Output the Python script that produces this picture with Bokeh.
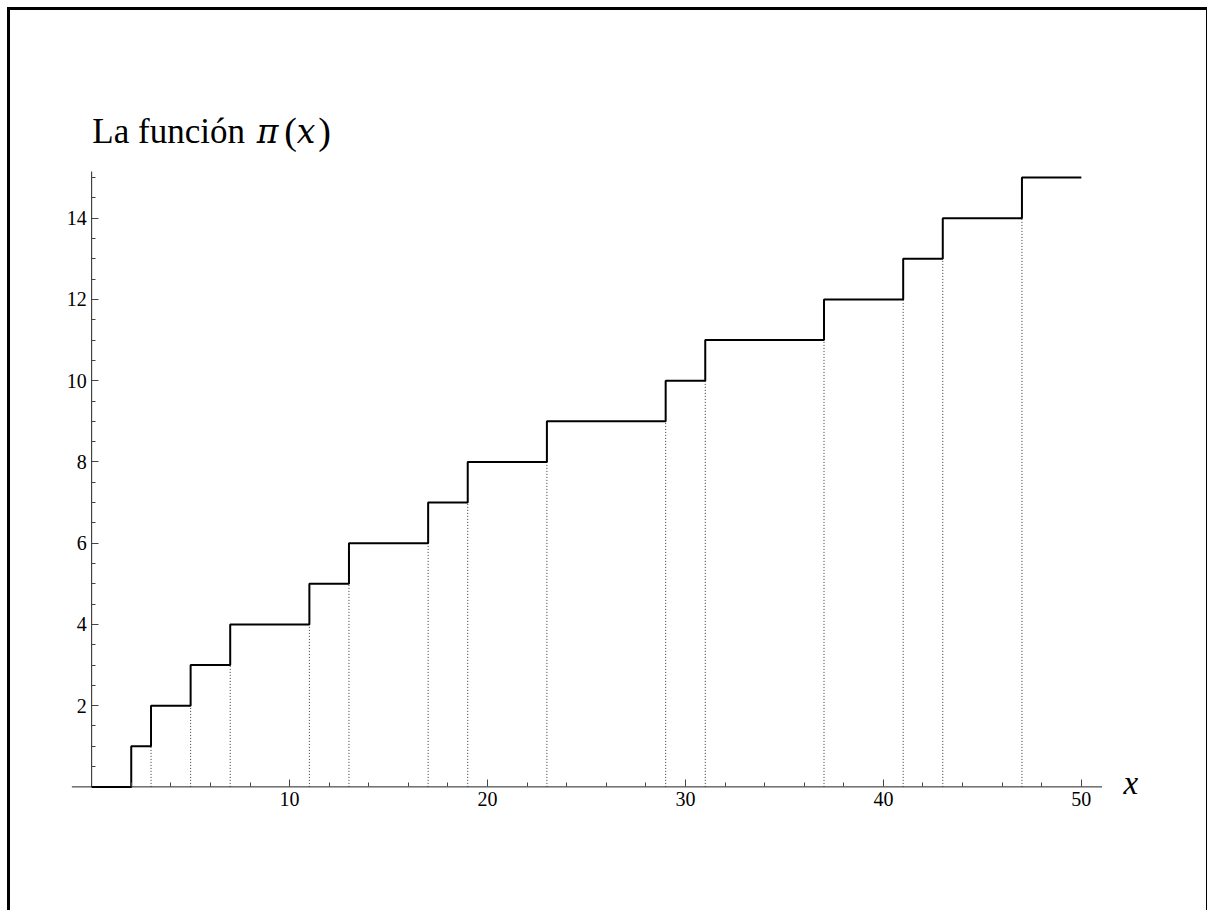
from bokeh.plotting import figure
from bokeh.models import Range1d, FixedTicker, Label
from bokeh.embed import file_html
from bokeh.resources import INLINE

primes = [2, 3, 5, 7, 11, 13, 17, 19, 23, 29, 31, 37, 41, 43, 47]
counts = [1, 2, 3, 4, 5, 6, 7, 8, 9, 10, 11, 12, 13, 14, 15]
x_end = 50
x_major = [10, 20, 30, 40, 50]
x_minor = [v for v in range(2, 51, 2) if v % 10 != 0]
y_major = [2, 4, 6, 8, 10, 12, 14]
y_minor = [v / 2 for v in range(1, 31) if v % 4 != 0]
x_axis_span = (-1, 51.05)
y_axis_span = (0, 15.15)

SERIF = "Liberation Serif"
MATH = "DejaVu Serif"

p = figure(frame_width=1150, frame_height=723,
           x_range=Range1d(-4.1, 54), y_range=Range1d(-1.0, 16.8),
           min_border_left=0, min_border_right=46, min_border_top=94, min_border_bottom=83,
           output_backend="svg", toolbar_location=None)
p.styles = {"border-top": "3px solid black", "border-left": "3px solid black",
            "border-right": "3px solid black", "margin-left": "7px", "margin-top": "7px"}
p.outline_line_color = None
p.xgrid.visible = False
p.ygrid.visible = False
p.background_fill_color = "white"
p.border_fill_color = "white"

# axis lines
p.segment(x0=[x_axis_span[0], 0], y0=[0, y_axis_span[0]], x1=[x_axis_span[1], 0], y1=[0, y_axis_span[1]],
          line_color="#222222", line_width=1)

# dotted lines from axis to previous level
before = [c - 1 for c in counts]
p.segment(x0=primes[1:], y0=[0] * (len(primes) - 1), x1=primes[1:], y1=before[1:],
          line_color="#333333", line_width=1, line_dash="1 2")

# step function
sx = [0] + primes + [x_end]
sy = [0] + counts + [counts[-1]]
p.step(sx, sy, mode="after", line_color="black", line_width=2)

for ax in (p.xaxis[0], p.yaxis[0]):
    ax.axis_line_color = None
    ax.major_tick_line_color = "#444444"
    ax.minor_tick_line_color = "#444444"
    ax.major_tick_in = 7
    ax.major_tick_out = 0
    ax.minor_tick_in = 4
    ax.minor_tick_out = 0
    ax.major_label_text_font = SERIF
    ax.major_label_text_font_size = "20px"
    ax.major_label_text_color = "black"
    ax.major_label_standoff = 5

p.xaxis.ticker = FixedTicker(ticks=x_major, minor_ticks=x_minor)
p.yaxis.ticker = FixedTicker(ticks=y_major, minor_ticks=y_minor)
p.yaxis.fixed_location = 0
p.xaxis.fixed_location = 0

title_y = 16.14
parts = [("La función", 0.7, "normal", "35px", SERIF), ("π", 165.0, "italic", "33px", MATH),
         ("(", 192.5, "normal", "38px", SERIF), ("x", 205.0, "italic", "33px", MATH),
         (")", 226.5, "normal", "38px", SERIF)]
for txt, off, style, size, font in parts:
    p.add_layout(Label(x=0, y=title_y, x_offset=off, text=txt, text_font=font,
                       text_font_size=size, text_font_style=style, text_color="black",
                       text_baseline="alphabetic", text_align="left"))

p.add_layout(Label(x=52.5, y=0.10, text="x", text_font=SERIF, text_font_size="33px",
                   text_font_style="italic", text_color="black",
                   text_baseline="alphabetic", text_align="center"))

open("out.html", "w").write(file_html(p, INLINE))
